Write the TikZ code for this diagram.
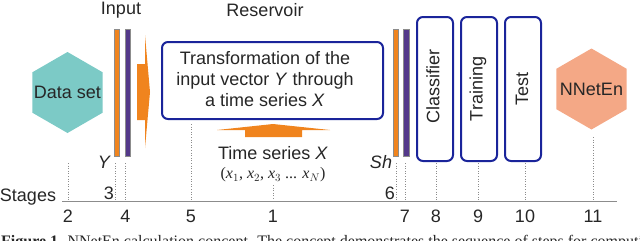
\documentclass[tikz,border=0pt]{standalone}
\usepackage{fontspec}
\setmainfont{Liberation Sans}
\newfontfamily\serifx{Liberation Serif}
\usetikzlibrary{shapes.geometric}
\definecolor{orng}{HTML}{F0841E}
\definecolor{purp}{HTML}{54398A}
\definecolor{bbord}{HTML}{1A249A}
\definecolor{teal1}{HTML}{7CCAC6}
\definecolor{salm}{HTML}{F4A886}
\definecolor{axg}{HTML}{8C8C8C}
\begin{document}
\begin{tikzpicture}[x=1pt,y=-1pt,
  lbl/.style={font=\fontsize{18}{20}\selectfont, inner sep=0pt, text=black!85},
  hexa/.style={regular polygon, regular polygon sides=6, shape border rotate=30, inner sep=0pt, minimum size=81pt},
  bar/.style={draw=black!45, line width=0.6pt},
  rbox/.style={draw=bbord, line width=2pt, rounded corners=6pt, fill=white},
  dot/.style={draw=axg, dotted, line width=0.6pt},
]
\useasboundingbox (0,0) rectangle (640,241);

% hexagons
\node[hexa, fill=teal1] (data) at (67.5,92.5) {};
\node[lbl] at (data.center) {Data set};
\node[hexa, fill=salm] (nnet) at (591.5,89) {};
\node[lbl] at (nnet.center) {NNetEn};

% top labels
\node[lbl] (input) at (121,10) {Input};
\node[lbl] (res) at (265,10) {Reservoir};

% input bars
\filldraw[bar, fill=orng] (114,29) rectangle (119,156);
\filldraw[bar, fill=purp] (125,29) rectangle (130,156);
\node[lbl, font=\fontsize{18}{20}\selectfont\itshape] (ylab) at (104,162) {Y};

% big right arrow
\fill[orng] (137,64) -- (145,64) -- (145,35) -- (150,92) -- (145,148) -- (145,120) -- (137,120) -- cycle;

% reservoir box
\node[rbox, minimum width=221pt, minimum height=77pt] (resbox) at (272.5,80.5) {};
\node[lbl, align=center, font=\fontsize{18}{21}\selectfont] at (265,79)
  {Transformation of the\\ input vector \textit{Y} through\\ a time series \textit{X}};

% up arrow
\fill[orng] (245,137) -- (245,130) -- (217,130) -- (273,124) -- (330,130) -- (302,130) -- (302,137) -- cycle;
\node[lbl] (ts) at (273,153) {Time series \textit{X}};
\node[inner sep=0pt, font=\serifx\fontsize{16}{18}\selectfont, text=black!85] (xs) at (273,175)
  {(\textit{x}$_1$, \textit{x}$_2$, \textit{x}$_3$ ... \textit{x}$_N$)};

% Sh bars
\filldraw[bar, fill=orng] (393,29) rectangle (398,156);
\filldraw[bar, fill=purp] (403,29) rectangle (409,156);
\node[lbl, font=\fontsize{18}{20}\selectfont\itshape] (sh) at (381,162) {Sh};

% classifier etc
\node[rbox, minimum width=36pt, minimum height=144pt] (cls) at (435,89) {};
\node[lbl, rotate=90] at (433,86) {Classifier};
\node[rbox, minimum width=36pt, minimum height=144pt] (trn) at (479,89) {};
\node[lbl, rotate=90] at (478,89) {Training};
\node[rbox, minimum width=36pt, minimum height=144pt] (tst) at (523,89) {};
\node[lbl, rotate=90] at (522,89) {Test};

% axis
\node[lbl] (stg) at (28,197) {Stages};
\draw[axg, line width=0.8pt] (62,201) -- (617,201);
\foreach \xx/\yy/\tt in {68/163/2, 125.5/163/4, 191/124/5, 273/185/1, 405/163/7, 436/163/8, 478/163/9, 525/163/10, 593/137/11}{
  \draw[dot] (\xx,\yy) -- (\xx,200);
  \node[lbl] at (\xx,216) {\tt};
}
\draw[dot] (115,163) -- (115,200);
\draw[dot] (396,163) -- (396,200);
\node[lbl] at (109,193) {3};
\node[lbl] at (390,193) {6};

% caption (cut off by the picture's lower edge, as in the reference)
\node[anchor=north west, inner sep=0pt, font=\serifx\fontsize{16}{18}\selectfont, text=black!85] at (1,235)
  {\textbf{Figure 1.} NNetEn calculation concept. The concept demonstrates the sequence of steps for computing};
\end{tikzpicture}
\end{document}
